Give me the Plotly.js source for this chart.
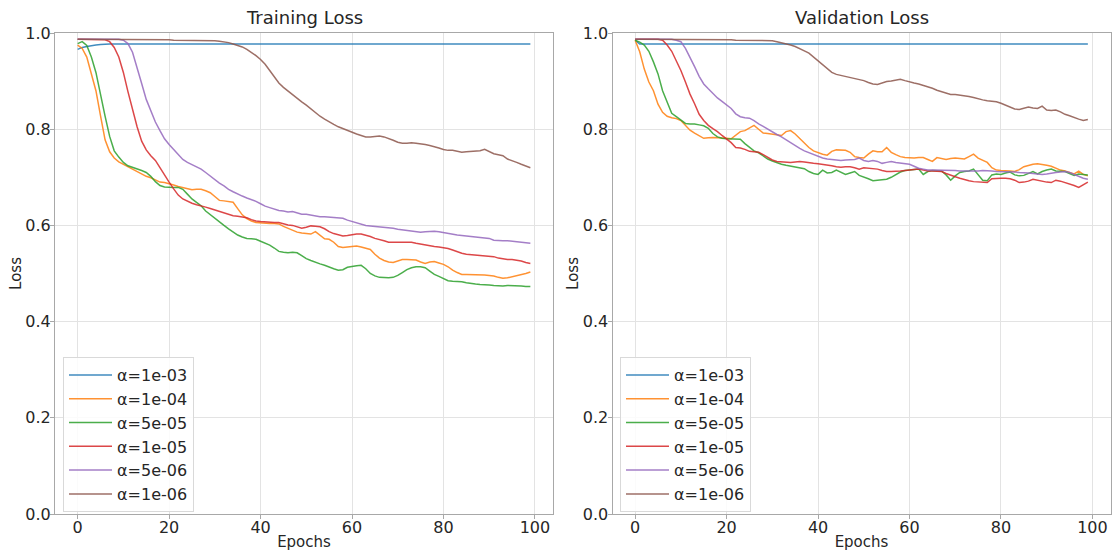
<!DOCTYPE html>
<html>
<head>
<meta charset="utf-8">
<script src="https://cdn.plot.ly/plotly-3.0.1.min.js"></script>
<style>html,body{margin:0;padding:0;background:#fff;}#chart{width:1113px;height:551px;}</style>
</head>
<body>
<div id="chart"></div>
<script>
// ---------- data ----------
const labels = ["α=1e-03", "α=1e-04", "α=5e-05", "α=1e-05", "α=5e-06", "α=1e-06"];
const colors = ["#1f77b4", "#ff7f0e", "#2ca02c", "#d62728", "#9467bd", "#8c564b"];
const xTicks = [0, 20, 40, 60, 80, 100];
const yTicks = [0.0, 0.2, 0.4, 0.6, 0.8, 1.0];

// Training loss
const trainA1e3 = [0.966,0.970,0.972,0.974,0.975,0.976,0.977,0.977,0.977,0.977,
0.977,0.977,0.977,0.977,0.977,0.977,0.977,0.977,0.977,0.977,
0.977,0.977,0.977,0.977,0.977,0.977,0.977,0.977,0.977,0.977,
0.977,0.977,0.977,0.977,0.977,0.977,0.977,0.977,0.977,0.977,
0.977,0.977,0.977,0.977,0.977,0.977,0.977,0.977,0.977,0.977,
0.977,0.977,0.977,0.977,0.977,0.977,0.977,0.977,0.977,0.977,
0.977,0.977,0.977,0.977,0.977,0.977,0.977,0.977,0.977,0.977,
0.977,0.977,0.977,0.977,0.977,0.977,0.977,0.977,0.977,0.977,
0.977,0.977,0.977,0.977,0.977,0.977,0.977,0.977,0.977,0.977,
0.977,0.977,0.977,0.977,0.977,0.977,0.977,0.977,0.977,0.977];
const trainA1e4 = [0.975,0.968,0.950,0.915,0.880,0.828,0.778,0.753,0.740,0.732,
0.727,0.722,0.717,0.711,0.706,0.702,0.699,0.694,0.690,0.689,
0.687,0.684,0.681,0.679,0.676,0.674,0.675,0.675,0.672,0.668,
0.660,0.652,0.651,0.650,0.648,0.635,0.622,0.614,0.609,0.606,
0.605,0.605,0.604,0.604,0.603,0.598,0.594,0.590,0.586,0.584,
0.583,0.582,0.587,0.580,0.572,0.571,0.565,0.556,0.554,0.555,
0.556,0.557,0.555,0.553,0.550,0.540,0.532,0.527,0.524,0.523,
0.526,0.529,0.529,0.528,0.528,0.524,0.521,0.524,0.525,0.522,
0.519,0.514,0.507,0.502,0.498,0.498,0.498,0.498,0.498,0.497,
0.496,0.495,0.492,0.490,0.491,0.493,0.495,0.497,0.500,0.503];
const trainA5e5 = [0.978,0.982,0.974,0.950,0.918,0.870,0.827,0.785,0.755,0.742,
0.731,0.724,0.721,0.718,0.714,0.710,0.702,0.691,0.683,0.680,
0.679,0.679,0.679,0.675,0.665,0.655,0.648,0.641,0.630,0.622,
0.614,0.607,0.600,0.593,0.586,0.580,0.576,0.573,0.572,0.571,
0.567,0.563,0.559,0.553,0.546,0.544,0.543,0.544,0.543,0.537,
0.531,0.527,0.523,0.520,0.517,0.513,0.510,0.507,0.508,0.513,
0.515,0.516,0.517,0.510,0.500,0.495,0.492,0.491,0.491,0.492,
0.496,0.502,0.508,0.512,0.514,0.514,0.512,0.505,0.498,0.494,
0.489,0.485,0.484,0.484,0.483,0.481,0.479,0.478,0.477,0.477,
0.476,0.475,0.474,0.474,0.475,0.475,0.475,0.474,0.473,0.473];
const trainA1e5 = [0.987,0.987,0.987,0.987,0.987,0.987,0.986,0.982,0.970,0.950,
0.918,0.878,0.840,0.805,0.775,0.757,0.745,0.735,0.720,0.704,
0.690,0.676,0.663,0.655,0.650,0.646,0.643,0.641,0.638,0.635,
0.632,0.630,0.627,0.623,0.620,0.619,0.618,0.616,0.612,0.609,
0.608,0.607,0.607,0.606,0.606,0.603,0.601,0.600,0.597,0.594,
0.596,0.599,0.598,0.597,0.593,0.587,0.583,0.580,0.578,0.579,
0.581,0.582,0.582,0.580,0.577,0.573,0.571,0.568,0.565,0.565,
0.566,0.566,0.566,0.565,0.563,0.561,0.559,0.557,0.556,0.555,
0.554,0.552,0.549,0.545,0.542,0.540,0.539,0.538,0.537,0.536,
0.536,0.535,0.532,0.530,0.529,0.529,0.528,0.526,0.523,0.521];
const trainA5e6 = [0.987,0.987,0.987,0.987,0.987,0.987,0.987,0.987,0.987,0.987,
0.985,0.978,0.960,0.930,0.895,0.862,0.838,0.815,0.797,0.780,
0.768,0.757,0.746,0.737,0.731,0.726,0.722,0.717,0.710,0.702,
0.694,0.688,0.682,0.675,0.670,0.665,0.661,0.657,0.654,0.650,
0.645,0.640,0.637,0.634,0.631,0.630,0.628,0.629,0.626,0.623,
0.623,0.621,0.620,0.618,0.618,0.617,0.617,0.616,0.615,0.611,
0.608,0.606,0.603,0.600,0.599,0.598,0.597,0.597,0.596,0.594,
0.592,0.591,0.590,0.588,0.587,0.586,0.587,0.588,0.588,0.587,
0.585,0.584,0.582,0.580,0.579,0.578,0.577,0.575,0.574,0.574,
0.573,0.569,0.568,0.568,0.568,0.567,0.566,0.566,0.564,0.563];
const trainA1e6 = [0.987,0.987,0.987,0.987,0.987,0.987,0.987,0.987,0.987,0.987,
0.987,0.986,0.986,0.986,0.986,0.986,0.986,0.986,0.986,0.986,
0.986,0.985,0.985,0.985,0.985,0.985,0.985,0.985,0.985,0.984,
0.984,0.983,0.982,0.980,0.977,0.974,0.971,0.966,0.960,0.953,
0.945,0.935,0.922,0.908,0.896,0.887,0.879,0.871,0.864,0.857,
0.850,0.842,0.834,0.827,0.821,0.815,0.810,0.805,0.801,0.797,
0.794,0.790,0.787,0.784,0.784,0.785,0.786,0.784,0.781,0.777,
0.773,0.771,0.771,0.772,0.771,0.770,0.768,0.766,0.764,0.761,
0.758,0.756,0.756,0.754,0.752,0.753,0.754,0.754,0.755,0.758,
0.753,0.749,0.747,0.745,0.738,0.735,0.731,0.727,0.723,0.720];

// Validation loss
const valA1e3 = [0.985,0.977,0.977,0.977,0.977,0.977,0.977,0.977,0.977,0.977,
0.977,0.977,0.977,0.977,0.977,0.977,0.977,0.977,0.977,0.977,
0.977,0.977,0.977,0.977,0.977,0.977,0.977,0.977,0.977,0.977,
0.977,0.977,0.977,0.977,0.977,0.977,0.977,0.977,0.977,0.977,
0.977,0.977,0.977,0.977,0.977,0.977,0.977,0.977,0.977,0.977,
0.977,0.977,0.977,0.977,0.977,0.977,0.977,0.977,0.977,0.977,
0.977,0.977,0.977,0.977,0.977,0.977,0.977,0.977,0.977,0.977,
0.977,0.977,0.977,0.977,0.977,0.977,0.977,0.977,0.977,0.977,
0.977,0.977,0.977,0.977,0.977,0.977,0.977,0.977,0.977,0.977,
0.977,0.977,0.977,0.977,0.977,0.977,0.977,0.977,0.977,0.977];
const valA1e4 = [0.985,0.961,0.925,0.898,0.880,0.852,0.835,0.827,0.824,0.822,
0.818,0.808,0.798,0.792,0.787,0.781,0.782,0.783,0.782,0.782,
0.781,0.780,0.788,0.795,0.797,0.803,0.808,0.800,0.792,0.791,
0.790,0.788,0.787,0.795,0.797,0.790,0.780,0.770,0.762,0.755,
0.751,0.748,0.746,0.754,0.757,0.757,0.756,0.752,0.743,0.741,
0.740,0.748,0.755,0.753,0.753,0.762,0.752,0.747,0.743,0.741,
0.740,0.740,0.741,0.741,0.737,0.733,0.741,0.739,0.737,0.739,
0.740,0.739,0.738,0.743,0.748,0.740,0.736,0.731,0.720,0.715,
0.714,0.714,0.713,0.712,0.716,0.722,0.725,0.727,0.728,0.727,
0.725,0.723,0.719,0.715,0.713,0.710,0.707,0.713,0.706,0.703];
const valA5e5 = [0.985,0.981,0.975,0.962,0.940,0.915,0.880,0.858,0.833,0.826,
0.818,0.812,0.811,0.811,0.809,0.807,0.802,0.791,0.784,0.781,
0.780,0.780,0.780,0.779,0.770,0.762,0.755,0.751,0.745,0.738,
0.734,0.730,0.727,0.725,0.723,0.721,0.720,0.718,0.712,0.708,
0.706,0.715,0.709,0.710,0.715,0.711,0.706,0.709,0.712,0.704,
0.701,0.697,0.693,0.694,0.695,0.696,0.700,0.705,0.711,0.714,
0.715,0.716,0.717,0.706,0.712,0.714,0.713,0.713,0.705,0.694,
0.703,0.710,0.712,0.713,0.717,0.705,0.694,0.693,0.705,0.707,
0.706,0.709,0.711,0.705,0.703,0.704,0.708,0.712,0.707,0.712,
0.715,0.717,0.713,0.712,0.712,0.708,0.704,0.707,0.706,0.705];
const valA1e5 = [0.987,0.987,0.987,0.987,0.987,0.987,0.985,0.975,0.962,0.942,
0.922,0.898,0.873,0.853,0.831,0.818,0.808,0.801,0.795,0.787,
0.780,0.772,0.762,0.761,0.758,0.754,0.753,0.752,0.747,0.741,
0.736,0.733,0.732,0.731,0.731,0.732,0.733,0.732,0.730,0.729,
0.728,0.727,0.726,0.724,0.722,0.721,0.722,0.722,0.720,0.717,
0.720,0.719,0.718,0.717,0.714,0.712,0.712,0.712,0.713,0.714,
0.715,0.716,0.717,0.715,0.713,0.713,0.713,0.712,0.708,0.704,
0.701,0.698,0.695,0.693,0.691,0.690,0.689,0.689,0.697,0.698,
0.698,0.698,0.697,0.694,0.689,0.690,0.692,0.696,0.694,0.691,
0.690,0.689,0.694,0.692,0.689,0.687,0.683,0.679,0.684,0.690];
const valA5e6 = [0.987,0.987,0.987,0.987,0.987,0.987,0.987,0.987,0.987,0.985,
0.982,0.968,0.950,0.930,0.910,0.894,0.884,0.874,0.865,0.858,
0.850,0.843,0.832,0.826,0.824,0.823,0.818,0.811,0.806,0.800,
0.795,0.789,0.784,0.778,0.771,0.765,0.760,0.755,0.751,0.747,
0.744,0.740,0.738,0.737,0.736,0.735,0.736,0.736,0.737,0.740,
0.735,0.733,0.735,0.733,0.729,0.731,0.733,0.731,0.730,0.729,
0.727,0.723,0.719,0.717,0.715,0.715,0.715,0.715,0.714,0.714,
0.714,0.713,0.713,0.712,0.712,0.713,0.714,0.714,0.713,0.712,
0.712,0.712,0.711,0.711,0.710,0.710,0.709,0.708,0.707,0.706,
0.707,0.709,0.710,0.711,0.712,0.710,0.706,0.702,0.698,0.696];
const valA1e6 = [0.987,0.987,0.987,0.987,0.987,0.987,0.987,0.987,0.987,0.987,
0.987,0.986,0.986,0.986,0.986,0.986,0.986,0.986,0.986,0.986,
0.986,0.986,0.985,0.985,0.985,0.985,0.985,0.985,0.985,0.985,
0.984,0.982,0.980,0.978,0.975,0.972,0.968,0.963,0.958,0.950,
0.942,0.933,0.924,0.918,0.914,0.912,0.910,0.908,0.906,0.904,
0.901,0.897,0.894,0.893,0.896,0.899,0.900,0.902,0.904,0.901,
0.898,0.896,0.894,0.891,0.889,0.885,0.881,0.878,0.875,0.872,
0.872,0.871,0.870,0.868,0.866,0.863,0.861,0.859,0.858,0.857,
0.854,0.850,0.846,0.842,0.841,0.844,0.846,0.844,0.843,0.848,
0.840,0.839,0.840,0.836,0.831,0.828,0.824,0.821,0.818,0.820];

const trainSeries = [trainA1e3, trainA1e4, trainA5e5, trainA1e5, trainA5e6, trainA1e6];
const valSeries = [valA1e3, valA1e4, valA5e5, valA1e5, valA5e6, valA1e6];
const epochs = trainA1e3.map((_, i) => i);

// ---------- traces ----------
const traces = [];
trainSeries.forEach((ys, k) => {
  traces.push({x: epochs, y: ys, type: 'scatter', mode: 'lines', name: labels[k],
    line: {color: colors[k], width: 1.5}, opacity: 0.85, xaxis: 'x', yaxis: 'y', legend: 'legend'});
});
valSeries.forEach((ys, k) => {
  traces.push({x: epochs, y: ys, type: 'scatter', mode: 'lines', name: labels[k],
    line: {color: colors[k], width: 1.5}, opacity: 0.85, xaxis: 'x2', yaxis: 'y2', legend: 'legend2'});
});

// ---------- layout ----------
const W = 1113, H = 551;
const font = 'DejaVu Sans, sans-serif';
const axisCommon = {
  showgrid: true, gridcolor: '#e3e3e3', gridwidth: 1,
  showline: true, linecolor: '#a8a8a8', linewidth: 1, mirror: true,
  ticks: 'outside', ticklen: 4, tickcolor: '#a8a8a8', tickwidth: 1,
  zeroline: false, tickfont: {family: font, size: 16, color: '#262626'}
};
const xAxis = (dom, anchor) => Object.assign({}, axisCommon, {
  domain: dom, anchor: anchor, range: [-4.95, 103.95], tickvals: xTicks,
  ticklabelstandoff: -5,
  title: {text: 'Epochs', font: {family: font, size: 15, color: '#262626'}, standoff: 7}
});
const yAxis = (anchor) => Object.assign({}, axisCommon, {
  domain: [0, 1], anchor: anchor, range: [0, 1], tickvals: yTicks, tickformat: '.1f',
  ticklabelstandoff: -4,
  title: {text: 'Loss', font: {family: font, size: 15, color: '#262626'}, standoff: 0}
});
const dom1 = [55 / W, 553 / W];
const dom2 = [612.5 / W, 1110.5 / W];
const legendCommon = {
  bgcolor: 'rgba(255,255,255,0.85)', bordercolor: '#d9d9d9', borderwidth: 1,
  font: {family: font, size: 16, color: '#262626'}, itemwidth: 43,
  xanchor: 'left', yanchor: 'top', y: 1 - (357 - 33) / 481, tracegroupgap: 0
};

const layout = {
  width: W, height: H,
  margin: {l: 0, r: 0, t: 33, b: 37},
  paper_bgcolor: '#fff', plot_bgcolor: '#fff',
  xaxis: xAxis(dom1, 'y'),
  yaxis: yAxis('x'),
  xaxis2: xAxis(dom2, 'y2'),
  yaxis2: yAxis('x2'),
  legend: Object.assign({}, legendCommon, {x: 63 / W}),
  legend2: Object.assign({}, legendCommon, {x: 620 / W}),
  annotations: [
    {text: 'Training Loss', xref: 'paper', yref: 'paper', x: (dom1[0] + dom1[1]) / 2, y: 1 + 15 / 481,
     xanchor: 'center', yanchor: 'middle', showarrow: false, font: {family: font, size: 18, color: '#262626'}},
    {text: 'Validation Loss', xref: 'paper', yref: 'paper', x: (dom2[0] + dom2[1]) / 2, y: 1 + 15 / 481,
     xanchor: 'center', yanchor: 'middle', showarrow: false, font: {family: font, size: 18, color: '#262626'}}
  ]
};

Plotly.newPlot('chart', traces, layout, {staticPlot: true, displayModeBar: false});
</script>
</body>
</html>
